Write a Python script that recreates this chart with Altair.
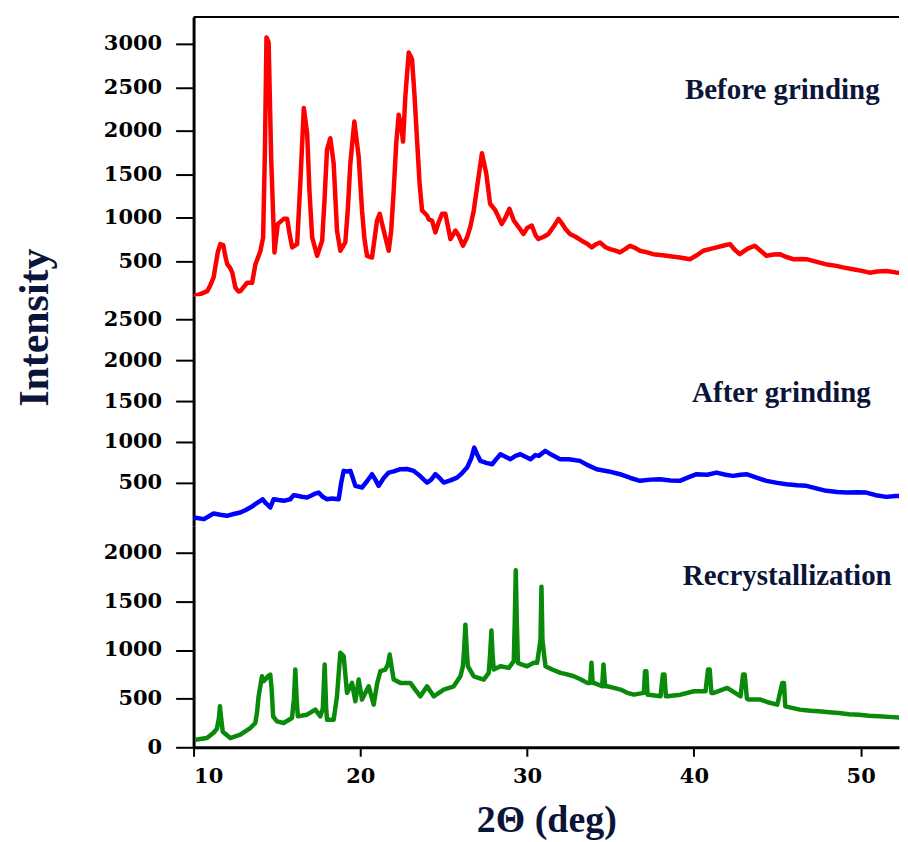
import altair as alt
import pandas as pd

# ---------------- data ----------------
before_x = [10.0, 10.4, 10.82, 11.0, 11.2, 11.45, 11.6, 11.78, 11.9, 12.02, 12.2, 12.32, 12.51, 12.7, 12.81,
            13.0, 13.21, 13.51, 13.71, 13.9, 14.01, 14.17, 14.28, 14.37, 14.5, 14.65, 14.85, 15.05, 15.25,
            15.41, 15.61, 15.75, 15.91, 16.21, 16.4, 16.61, 16.81, 16.95, 17.11, 17.41, 17.71, 17.85, 18.0,
            18.2, 18.4, 18.6, 18.8, 19.1, 19.25, 19.4, 19.64, 19.9, 20.1, 20.25, 20.4, 20.7, 21.0, 21.16,
            21.4, 21.7, 21.85, 22.0, 22.15, 22.3, 22.45, 22.56, 22.7, 22.9, 23.1, 23.25, 23.4, 23.55, 23.7,
            24.0, 24.1, 24.3, 24.5, 24.7, 24.9, 25.1, 25.25, 25.4, 25.7, 25.9, 26.15, 26.4, 26.6, 26.8, 27.0,
            27.29, 27.55, 27.78, 28.1, 28.3, 28.48, 28.7, 28.94, 29.2, 29.5, 29.78, 30.0, 30.28, 30.5, 30.68,
            31.0, 31.28, 31.6, 31.88, 32.1, 32.3, 32.57, 32.9, 33.27, 33.6, 33.87, 34.1, 34.37, 34.7, 34.97,
            35.3, 35.57, 35.9, 36.17, 36.5, 36.77, 37.2, 37.56, 38.0, 38.36, 38.8, 39.16, 39.5, 39.76, 40.2,
            40.56, 41.0, 41.36, 41.8, 42.16, 42.45, 42.75, 43.2, 43.65, 44.0, 44.35, 44.8, 45.15, 45.5, 45.95,
            46.4, 46.75, 47.2, 47.54, 48.0, 48.54, 49.0, 49.54, 50.0, 50.54, 51.0, 51.54, 52.1, 52.74]
before_y = [96, 120, 154, 220, 313, 600, 696, 683, 560, 464, 420, 367, 193, 150, 154,
            200, 251, 251, 464, 560, 619, 773, 1800, 3074, 3016, 1701, 600, 928, 960,
            986, 986, 820, 658, 696, 1400, 2262, 1972, 1300, 773, 561, 735, 1200, 1779,
            1914, 1624, 851, 619, 715, 1100, 1624, 2107, 1701, 1083, 750, 561, 541, 967, 1044,
            851, 619, 850, 1315, 1850, 2185, 2050, 1875, 2400, 2900, 2822, 2400, 1895, 1400, 1083,
            1025, 980, 967, 831, 950, 1044, 1044, 900, 754, 851, 793, 677, 773, 900, 1083, 1350,
            1740, 1508, 1160, 1083, 1000, 928, 1000, 1102, 967, 889, 812, 880, 909, 800, 754,
            780, 812, 900, 986, 930, 870, 812, 780, 735, 700, 658, 690, 715, 660, 638,
            620, 600, 640, 677, 650, 619, 600, 580, 570, 561, 550, 541, 530, 522, 570,
            619, 640, 658, 680, 696, 630, 580, 640, 677, 620, 561, 575, 580, 550, 522,
            525, 522, 500, 483, 460, 445, 425, 406, 390, 367, 380, 387, 370, 360]

after_x = [10.0, 10.62, 11.2, 11.6, 12.0, 12.4, 12.8, 13.1, 13.4, 13.7, 14.0, 14.15, 14.3, 14.45, 14.6, 14.8,
           15.1, 15.4, 15.8, 16.0, 16.2, 16.5, 16.8, 17.1, 17.3, 17.5, 17.75, 18.0, 18.3, 18.7, 18.85, 19.0,
           19.2, 19.4, 19.55, 19.7, 20.1, 20.4, 20.7, 20.9, 21.1, 21.4, 21.7, 22.0, 22.4, 22.8, 23.2, 23.6,
           24.0, 24.25, 24.5, 24.75, 25.0, 25.4, 25.8, 26.1, 26.4, 26.65, 26.83, 27.0, 27.2, 27.55, 27.9,
           28.15, 28.4, 28.7, 29.0, 29.3, 29.6, 29.9, 30.2, 30.5, 30.7, 31.08, 31.5, 31.98, 32.5, 33.17,
           33.6, 34.17, 34.9, 35.57, 36.2, 36.77, 37.4, 37.96, 38.6, 39.16, 39.7, 40.16, 40.8, 41.36, 41.9,
           42.35, 42.8, 43.15, 43.8, 44.35, 45.0, 45.55, 46.2, 46.75, 47.4, 47.95, 48.6, 49.14, 49.8, 50.34,
           50.9, 51.54, 52.1, 52.74]
after_y = [77, 57, 126, 110, 98, 120, 138, 165, 199, 240, 281, 300, 260, 230, 199, 301,
           290, 281, 300, 350, 342, 330, 322, 350, 370, 382, 330, 301, 310, 301, 500, 647,
           640, 647, 560, 464, 444, 520, 606, 540, 464, 560, 626, 640, 667, 670, 647, 580,
           504, 540, 606, 560, 504, 530, 565, 620, 687, 800, 931, 850, 769, 745, 728,
           790, 850, 820, 789, 830, 850, 820, 789, 840, 830, 891, 840, 789, 790, 769,
           720, 667, 640, 606, 560, 525, 540, 545, 530, 525, 570, 606, 600, 626, 600,
           586, 600, 606, 560, 525, 500, 484, 470, 464, 430, 403, 390, 382, 385, 382,
           350, 329, 340, 342]

recryst_x = [10.1, 10.8, 11.2, 11.4, 11.52, 11.58, 11.65, 11.75, 12.2, 12.8, 13.4, 13.7, 13.8, 13.9, 14.1,
             14.2, 14.3, 14.45, 14.6, 14.68, 14.77, 15.0, 15.4, 15.9, 16.02, 16.1, 16.18, 16.25, 16.8, 17.3,
             17.6, 17.75, 17.86, 17.95, 18.0, 18.4, 18.6, 18.72, 18.8, 19.0, 19.1, 19.2, 19.5, 19.7, 19.9,
             20.1, 20.5, 20.8, 21.0, 21.2, 21.5, 21.65, 21.76, 21.88, 22.0, 22.4, 23.0, 23.3, 23.6, 24.0,
             24.4, 25.0, 25.6, 26.0, 26.15, 26.22, 26.3, 26.38, 26.45, 26.8, 27.4, 27.7, 27.78, 27.86, 27.93,
             28.0, 28.4, 28.9, 29.2, 29.26, 29.32, 29.38, 29.45, 29.7, 30.0, 30.4, 30.6, 30.8, 30.86, 30.92,
             31.1, 31.5, 32.0, 32.4, 32.8, 33.2, 33.6, 33.78, 33.86, 33.93, 34.0, 34.5, 34.58, 34.68, 34.8,
             35.2, 35.6, 36.0, 36.4, 37.0, 37.07, 37.15, 37.22, 37.3, 38.0, 38.14, 38.24, 38.32, 38.4, 39.2,
             40.0, 40.7, 40.85, 40.95, 41.05, 41.2, 42.0, 42.8, 42.95, 43.05, 43.18, 43.3, 44.0, 44.5, 45.0,
             45.3, 45.4, 45.48, 46.35, 47.0, 47.5, 48.1, 48.7, 49.3, 49.9, 50.5, 51.1, 51.9, 52.7]
recryst_y = [77, 95, 150, 191, 300, 421, 300, 160, 95, 129, 198, 250, 350, 524, 730,
             680, 696, 730, 747, 600, 318, 266, 250, 301, 500, 799, 500, 318, 335, 387,
             318, 400, 850, 400, 283, 283, 524, 800, 971, 937, 750, 559, 662, 473, 696,
             490, 627, 438, 650, 782, 799, 850, 954, 820, 696, 662, 662, 590, 524, 627,
             524, 593, 627, 730, 833, 1000, 1260, 1000, 833, 730, 696, 765, 950, 1200, 950,
             799, 833, 816, 885, 1300, 1820, 1300, 868, 850, 833, 868, 868, 1100, 1650, 1100,
             833, 800, 765, 750, 730, 700, 662, 662, 868, 662, 662, 627, 851, 627, 627,
             610, 593, 560, 541, 559, 782, 782, 541, 541, 524, 747, 747, 524, 524, 541,
             576, 576, 799, 799, 559, 559, 610, 524, 747, 747, 500, 490, 490, 460, 438,
             662, 662, 421, 387, 375, 370, 360, 352, 340, 335, 325, 318, 310, 301]

x_ticks = [10, 20, 30, 40, 50]
before_ticks = [500, 1000, 1500, 2000, 2500, 3000]
after_ticks = [500, 1000, 1500, 2000, 2500]
recryst_ticks = [0, 500, 1000, 1500, 2000]

labels = ["Before grinding", "After grinding", "Recrystallization"]
label_x = [45.3, 45.25, 45.6]
label_y = [2470, 1600, 1765]

# ---------------- styling ----------------
SERIF = "Liberation Serif"
TICKFONT = "DejaVu Serif"
NAVY = "#0b1538"
W = 707
X_DOMAIN = [10, 52.3]


def yaxis(ticks, title=None, **kw):
    args = dict(values=ticks, format="d", grid=False,
                domainColor="black", domainWidth=3,
                tickColor="black", tickWidth=2, tickSize=18,
                labelFont=TICKFONT, labelFontSize=21, labelFontWeight="bold",
                labelColor="black", labelPadding=14)
    if title is None:
        args["title"] = None
    else:
        args.update(title=title, titleFont=SERIF, titleFontSize=42,
                    titleFontWeight="bold", titleColor=NAVY, **kw)
    return alt.Axis(**args)


def panel(xs, ys, color, ydomain, height, ticks, idx, show_x=False, top_border=False,
          ytitle=None, ytitle_kw=None):
    df = pd.DataFrame({"x": xs, "y": ys})
    if show_x:
        xaxis = alt.Axis(values=x_ticks, format="d", grid=False,
                         domainColor="black", domainWidth=3,
                         tickColor="black", tickWidth=2, tickSize=9,
                         labelFont=TICKFONT, labelFontSize=21, labelFontWeight="bold",
                         labelColor="black", labelPadding=9,
                         title="2Θ (deg)", titleFont=SERIF, titleFontSize=38,
                         titleFontWeight="bold", titleColor=NAVY, titlePadding=15)
    else:
        xaxis = None
    x = alt.X("x:Q", scale=alt.Scale(domain=X_DOMAIN, nice=False, zero=False), axis=xaxis)
    y = alt.Y("y:Q", scale=alt.Scale(domain=ydomain, nice=False, zero=False),
              axis=yaxis(ticks, ytitle, **(ytitle_kw or {})))
    line = alt.Chart(df).mark_line(color=color, strokeWidth=4.5, clip=True,
                                   strokeJoin="round").encode(x=x, y=y)
    tdf = pd.DataFrame({"x": [label_x[idx]], "y": [label_y[idx]], "label": [labels[idx]]})
    text = alt.Chart(tdf).mark_text(font=SERIF, fontSize=29, fontWeight="bold",
                                    color=NAVY, align="center", baseline="middle").encode(
        x=alt.X("x:Q", scale=alt.Scale(domain=X_DOMAIN, nice=False, zero=False)),
        y=alt.Y("y:Q", scale=alt.Scale(domain=ydomain, nice=False, zero=False)),
        text="label:N")
    layers = [line, text]
    if top_border:
        rule = alt.Chart(pd.DataFrame({"k": [0]})).mark_rule(color="black", strokeWidth=2).encode(
            x=alt.value(0), x2=alt.value(W), y=alt.value(0))
        layers.append(rule)
    return alt.layer(*layers).properties(width=W, height=height)


top = panel(before_x, before_y, "#ff0000", [95, 3310], 280, before_ticks, 0, top_border=True)
mid = panel(after_x, after_y, "#0000ff", [-24, 2780], 230, after_ticks, 1,
            ytitle="Intensity", ytitle_kw=dict(titleX=-137, titleY=31))
bot = panel(recryst_x, recryst_y, "#0a8a0a", [0, 2277], 222, recryst_ticks, 2, show_x=True)

chart = alt.vconcat(top, mid, bot, spacing=0, bounds="flush").properties(
    padding={"left": 6, "top": 7, "right": 0, "bottom": 5}
).configure(background="white", view=alt.ViewConfig(stroke=None, strokeWidth=0))

chart.save("out.html", embed_options={"renderer": "svg", "actions": False})
